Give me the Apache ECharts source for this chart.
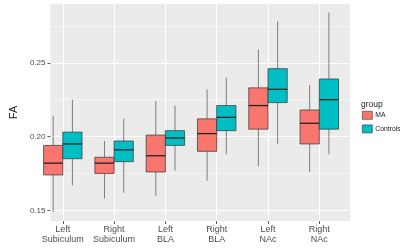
<!DOCTYPE html>
<html>
<head>
<meta charset="utf-8">
<script src="https://cdn.jsdelivr.net/npm/echarts@6/dist/echarts.min.js"></script>
<style>
  html, body { margin: 0; padding: 0; background: #fff; }
  #chart { width: 400px; height: 252px; }
</style>
</head>
<body>
<div id="chart"></div>
<script>
// regions on the x axis
const categories = ["Left\nSubiculum", "Right\nSubiculum", "Left\nBLA", "Right\nBLA", "Left\nNAc", "Right\nNAc"];
const groups = ["MA", "Controls"];

// MA box stats
const maLow = [0.149, 0.158, 0.160, 0.170, 0.180, 0.176];
const maQ1 = [0.174, 0.175, 0.176, 0.190, 0.205, 0.195];
const maMed = [0.182, 0.182, 0.187, 0.202, 0.221, 0.209];
const maQ3 = [0.194, 0.186, 0.201, 0.212, 0.233, 0.218];
const maHigh = [0.214, 0.197, 0.224, 0.232, 0.259, 0.235];

// Controls box stats
const ctLow = [0.167, 0.162, 0.177, 0.188, 0.195, 0.188];
const ctQ1 = [0.185, 0.183, 0.194, 0.204, 0.223, 0.205];
const ctMed = [0.195, 0.191, 0.199, 0.213, 0.232, 0.225];
const ctQ3 = [0.203, 0.197, 0.204, 0.221, 0.246, 0.239];
const ctHigh = [0.225, 0.212, 0.221, 0.240, 0.278, 0.284];

const yTicks = [0.15, 0.20, 0.25];
const yMinorTicks = [0.175, 0.225, 0.275];
const yMin = 0.1428;
const yMax = 0.2898;

const colors = ["#F8766D", "#00BFC4"];

const chart = echarts.init(document.getElementById("chart"));

function rows(low, q1, med, q3, high) {
  return categories.map(function (c, i) {
    return [i, low[i], q1[i], med[i], q3[i], high[i]];
  });
}

// dodge: MA left of the category centre, Controls right
function makeRender(side) {
  return function (params, api) {
    const i = api.value(0);
    const band = api.size([1, 0])[0];
    const w = band * 0.375;
    const cx = api.coord([i, api.value(3)])[0] + side * w / 2;
    const yLow = api.coord([i, api.value(1)])[1];
    const yQ1 = api.coord([i, api.value(2)])[1];
    const yMed = api.coord([i, api.value(3)])[1];
    const yQ3 = api.coord([i, api.value(4)])[1];
    const yHigh = api.coord([i, api.value(5)])[1];
    const line = { stroke: "#333", lineWidth: 0.6 };
    return {
      type: "group",
      children: [
        { type: "line", shape: { x1: cx, y1: yHigh, x2: cx, y2: yQ3 }, style: line },
        { type: "line", shape: { x1: cx, y1: yQ1, x2: cx, y2: yLow }, style: line },
        {
          type: "rect",
          shape: { x: cx - w / 2, y: yQ3, width: w, height: yQ1 - yQ3 },
          style: { fill: colors[side < 0 ? 0 : 1], stroke: "#333", lineWidth: 0.7 }
        },
        { type: "line", shape: { x1: cx - w / 2, y1: yMed, x2: cx + w / 2, y2: yMed }, style: { stroke: "#222", lineWidth: 1.3 } }
      ]
    };
  };
}

const option = {
  animation: false,
  title: {
    text: "group",
    left: 356,
    top: 95,
    textStyle: { fontSize: 8.5, fontWeight: "normal", color: "#222", fontFamily: "Liberation Sans" }
  },
  legend: {
    orient: "vertical",
    left: 357,
    top: 106,
    itemWidth: 10,
    itemHeight: 8,
    itemGap: 5,
    icon: "rect",
    textStyle: { fontSize: 6.8, color: "#222", fontFamily: "Liberation Sans", padding: [0, 0, 0, -2] },
    data: [
      { name: groups[0], itemStyle: { color: colors[0], borderColor: "#333", borderWidth: 0.6 } },
      { name: groups[1], itemStyle: { color: colors[1], borderColor: "#333", borderWidth: 0.6 } }
    ]
  },
  grid: [
    { left: 32, right: 50, top: 4, bottom: 31, show: true, backgroundColor: "#EBEBEB", borderWidth: 0 },
    { left: 62.8, right: 80.7, top: 4, bottom: 31 }
  ],
  xAxis: [
    { gridIndex: 0, type: "value", show: false, min: 0, max: 1 },
    {
      gridIndex: 1,
      type: "category",
      data: categories,
      boundaryGap: false,
      axisLine: { show: false },
      axisTick: { show: true, length: 3, lineStyle: { color: "#333", width: 0.8 } },
      axisLabel: { interval: 0, margin: 4, fontSize: 9, lineHeight: 10, color: "#4D4D4D", fontFamily: "Liberation Sans" },
      splitLine: { show: true, lineStyle: { color: "#fff", width: 1.1 } }
    }
  ],
  yAxis: [
    {
      gridIndex: 0,
      type: "value",
      min: yMin,
      max: yMax,
      name: "FA",
      nameLocation: "middle",
      nameRotate: 90,
      nameGap: 21,
      nameTextStyle: { fontSize: 11, color: "#222", fontFamily: "Liberation Sans" },
      axisLine: { show: false },
      axisTick: { show: true, length: 3, customValues: yTicks, lineStyle: { color: "#333", width: 0.8 } },
      axisLabel: {
        customValues: yTicks,
        margin: 5,
        fontSize: 8,
        color: "#4D4D4D",
        fontFamily: "Liberation Sans",
        formatter: function (v) { return v.toFixed(2); }
      },
      splitLine: { show: true, lineStyle: { color: "#fff", width: 1.1 } }
    },
    {
      gridIndex: 0,
      type: "value",
      min: yMin,
      max: yMax,
      axisLine: { show: false },
      axisTick: { show: false, customValues: yMinorTicks },
      axisLabel: { show: false, customValues: yMinorTicks },
      splitLine: { show: true, lineStyle: { color: "#fff", width: 0.5 } }
    },
    { gridIndex: 1, type: "value", min: yMin, max: yMax, show: false, splitLine: { show: false } }
  ],
  series: [
    {
      name: groups[0],
      type: "custom",
      xAxisIndex: 1,
      yAxisIndex: 2,
      itemStyle: { color: colors[0] },
      renderItem: makeRender(-1),
      encode: { x: 0, y: [1, 2, 3, 4, 5] },
      data: rows(maLow, maQ1, maMed, maQ3, maHigh)
    },
    {
      name: groups[1],
      type: "custom",
      xAxisIndex: 1,
      yAxisIndex: 2,
      itemStyle: { color: colors[1] },
      renderItem: makeRender(1),
      encode: { x: 0, y: [1, 2, 3, 4, 5] },
      data: rows(ctLow, ctQ1, ctMed, ctQ3, ctHigh)
    }
  ]
};

chart.setOption(option);
</script>
</body>
</html>
